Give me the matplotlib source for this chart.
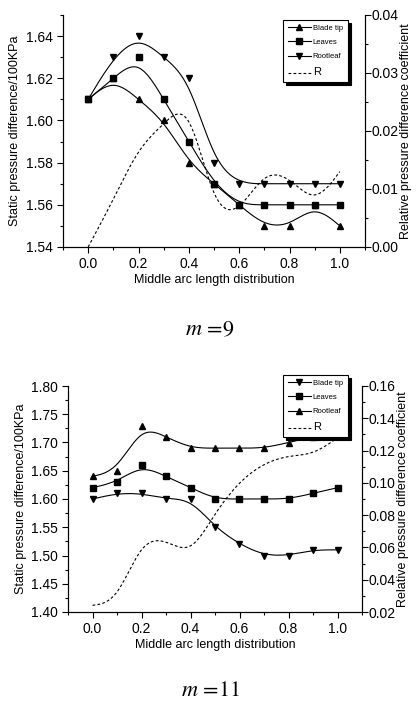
import numpy as np
import matplotlib
matplotlib.use("Agg")
import matplotlib.pyplot as plt
from matplotlib.ticker import MultipleLocator

plt.rcParams['font.family'] = ['Liberation Sans', 'DejaVu Sans']
plt.rcParams['mathtext.fontset'] = 'stix'

x = [0.0, 0.1, 0.2, 0.3, 0.4, 0.5, 0.6, 0.7, 0.8, 0.9, 1.0]

# m = 9
tip9 = [1.61, 1.62, 1.61, 1.60, 1.58, 1.57, 1.56, 1.55, 1.55, 1.56, 1.55]
leaves9 = [1.61, 1.62, 1.63, 1.61, 1.59, 1.57, 1.56, 1.56, 1.56, 1.56, 1.56]
root9 = [1.61, 1.63, 1.64, 1.63, 1.62, 1.58, 1.57, 1.57, 1.57, 1.57, 1.57]
r9 = [0.0, 0.0081, 0.0172, 0.0212, 0.0255, 0.0062, 0.0058, 0.0132, 0.0121, 0.0072, 0.013]

# m = 11
tip11 = [1.60, 1.61, 1.61, 1.60, 1.60, 1.55, 1.52, 1.50, 1.50, 1.51, 1.51]
leaves11 = [1.62, 1.63, 1.66, 1.64, 1.62, 1.60, 1.60, 1.60, 1.60, 1.61, 1.62]
root11 = [1.64, 1.65, 1.73, 1.71, 1.69, 1.69, 1.69, 1.69, 1.70, 1.71, 1.72]
r11 = [0.0241, 0.0264, 0.0649, 0.0649, 0.0548, 0.0817, 0.1011, 0.1123, 0.117, 0.1173, 0.1279]


def bspline(xs, ys, n=40):
    # clamped uniform cubic B-spline, data used as control points (Origin style)
    px = np.r_[xs[0], xs[0], xs, xs[-1], xs[-1]]
    py = np.r_[ys[0], ys[0], ys, ys[-1], ys[-1]]
    t = np.linspace(0, 1, n)
    b0 = (1 - t) ** 3 / 6
    b1 = (3 * t**3 - 6 * t**2 + 4) / 6
    b2 = (-3 * t**3 + 3 * t**2 + 3 * t + 1) / 6
    b3 = t**3 / 6
    cx, cy = [], []
    for j in range(len(px) - 3):
        cx.append(b0 * px[j] + b1 * px[j + 1] + b2 * px[j + 2] + b3 * px[j + 3])
        cy.append(b0 * py[j] + b1 * py[j + 1] + b2 * py[j + 2] + b3 * py[j + 3])
    return np.concatenate(cx), np.concatenate(cy)


def panel(rect, series, r, ylim, ymaj, ymin, r_lim, r_maj, title, leg_xy):
    ax = fig.add_axes(rect)
    lines = []
    for name, ys, mk in series:
        sx, sy = bspline(x, ys)
        ax.plot(sx, sy, color='k', lw=0.8)
        ax.plot(x, ys, ls='none', marker=mk, color='k', ms=4.5)
        lines.append(ax.plot([], [], color='k', lw=0.8, marker=mk, ms=4, label=name)[0])
    ax.set_xlim(-0.1, 1.1)
    ax.set_ylim(*ylim)
    ax.xaxis.set_major_locator(MultipleLocator(0.2))
    ax.xaxis.set_minor_locator(MultipleLocator(0.1))
    ax.yaxis.set_major_locator(MultipleLocator(ymaj))
    ax.yaxis.set_minor_locator(MultipleLocator(ymin))
    ax.spines['top'].set_visible(False)
    ax.set_xlabel('Middle arc length distribution', fontsize=9, labelpad=2)
    ax.set_ylabel('Static pressure difference/100KPa', fontsize=9, labelpad=3)

    ax2 = ax.twinx()
    sx, sy = bspline(x, r)
    ax2.plot(sx, sy, color='k', lw=0.8, ls=(0, (2.5, 2)))
    rl = ax2.plot([], [], color='k', lw=0.8, ls=(0, (2.5, 2)), label='R')[0]
    ax2.set_ylim(*r_lim)
    ax2.yaxis.set_major_locator(MultipleLocator(r_maj))
    ax2.yaxis.set_minor_locator(MultipleLocator(r_maj / 2))
    ax2.spines['top'].set_visible(False)
    ax2.set_ylabel('Relative pressure difference coefficient', fontsize=9,
                   rotation=90, labelpad=1)

    for a in (ax, ax2):
        a.tick_params(which='major', direction='out', length=4, width=0.8, labelsize=10)
        a.tick_params(which='minor', direction='out', length=2, width=0.8)
        for s in a.spines.values():
            s.set_linewidth(0.8)
    ax2.tick_params(which='major', pad=1)

    leg = ax2.legend(handles=lines + [rl], loc='upper left',
                     bbox_to_anchor=leg_xy, bbox_transform=fig.transFigure,
                     fontsize=5.5, handlelength=3, handletextpad=0.3,
                     labelspacing=0.9, borderpad=0.6, borderaxespad=0,
                     fancybox=False, edgecolor='k', framealpha=1,
                     shadow={'ox': 2.5, 'oy': -2.5, 'facecolor': 'k',
                             'edgecolor': 'k', 'alpha': 1})
    leg.get_frame().set_linewidth(0.8)
    leg.get_texts()[-1].set_fontsize(8)

    fig.text(rect[0] + rect[2] / 2 - 0.01, title[1], title[0],
             fontsize=16, ha='center', va='center')
    return ax


fig = plt.figure(figsize=(4.17, 7.04), dpi=100)

panel([63 / 417, 1 - 247 / 704, 302 / 417, 232 / 704],
      [('Blade tip', tip9, '^'), ('Leaves', leaves9, 's'), ('Rootleaf', root9, 'v')],
      r9, (1.54, 1.65), 0.02, 0.01, (0.0, 0.04), 0.01,
      (r'$m\,=\!9$', 1 - 330 / 704), (283 / 417, 1 - 20 / 704))

panel([68 / 417, 1 - 612 / 704, 294 / 417, 226 / 704],
      [('Blade tip', tip11, 'v'), ('Leaves', leaves11, 's'), ('Rootleaf', root11, '^')],
      r11, (1.40, 1.80), 0.05, 0.025, (0.02, 0.16), 0.02,
      (r'$m\,=\!11$', 1 - 691 / 704), (283 / 417, 1 - 375 / 704))

fig.savefig('out.png', dpi=100)
